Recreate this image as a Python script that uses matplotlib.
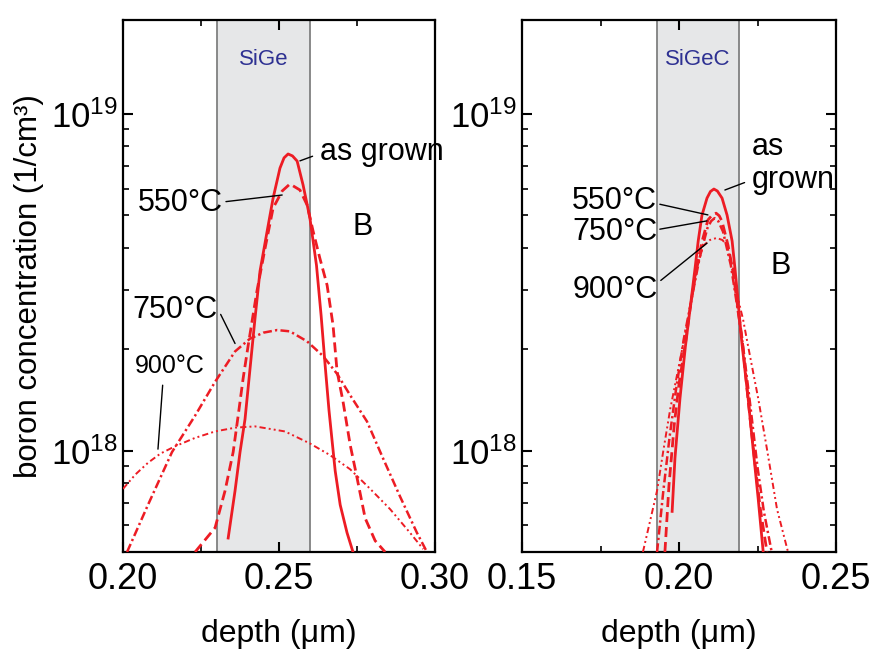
import matplotlib
matplotlib.use("Agg")
import matplotlib.pyplot as plt
import numpy as np
from matplotlib.ticker import FormatStrFormatter, LogLocator, MultipleLocator, NullFormatter

plt.rcParams["font.family"] = ["Liberation Sans", "DejaVu Sans"]
plt.rcParams["mathtext.fontset"] = "custom"
plt.rcParams["mathtext.rm"] = "Liberation Sans"
plt.rcParams["mathtext.it"] = "Liberation Sans:italic"

# depth in um, boron concentration in units of 1e18 / cm^3
sige_grown_x = [0.2337, 0.2359, 0.2375, 0.2391, 0.2407, 0.2423, 0.2439, 0.2462, 0.2481, 0.2503, 0.2516, 0.2529,
                0.2543, 0.2558, 0.2577, 0.2599, 0.2620, 0.2635, 0.2648, 0.2660, 0.2670, 0.2680, 0.2696, 0.2718, 0.2737]
sige_grown_c = [0.55, 0.76, 0.99, 1.24, 1.75, 2.47, 3.41, 4.49, 5.62, 6.90, 7.40, 7.60,
                7.50, 7.24, 6.15, 4.90, 3.55, 2.51, 1.78, 1.32, 1.07, 0.87, 0.69, 0.57, 0.50]
sige_550_x = [0.2231, 0.2295, 0.2327, 0.2353, 0.2369, 0.2385, 0.2401, 0.2429, 0.2455, 0.2481, 0.2510, 0.2535,
              0.2567, 0.2590, 0.2609, 0.2631, 0.2654, 0.2673, 0.2686, 0.2705, 0.2728, 0.2750, 0.2776, 0.2808, 0.2840]
sige_550_c = [0.50, 0.59, 0.76, 0.99, 1.27, 1.64, 2.05, 2.97, 3.98, 5.25, 5.90, 6.19,
              5.94, 5.36, 4.49, 3.72, 3.10, 2.36, 1.72, 1.40, 1.04, 0.83, 0.63, 0.54, 0.50]
sige_750_x = [0.2013, 0.2080, 0.2157, 0.2231, 0.2295, 0.2359, 0.2407, 0.2450, 0.2494, 0.2535,
              0.2590, 0.2641, 0.2686, 0.2728, 0.2782, 0.2833, 0.2888, 0.2942, 0.2974]
sige_750_c = [0.50, 0.69, 0.99, 1.27, 1.60, 1.97, 2.15, 2.24, 2.28, 2.26,
              2.11, 1.91, 1.69, 1.46, 1.22, 0.95, 0.73, 0.57, 0.50]
sige_900_x = [0.2000, 0.2040, 0.2080, 0.2120, 0.2167, 0.2230, 0.2295, 0.2360, 0.2423, 0.2519,
              0.2599, 0.2663, 0.2728, 0.2792, 0.2856, 0.2920, 0.2962]
sige_900_c = [0.77, 0.85, 0.92, 0.98, 1.03, 1.09, 1.14, 1.17, 1.18, 1.14,
              1.05, 0.97, 0.88, 0.77, 0.67, 0.57, 0.51]

sigec_grown_x = [0.1978, 0.1987, 0.2003, 0.2020, 0.2038, 0.2051, 0.2061, 0.2073, 0.2089, 0.2100, 0.2111,
                 0.2122, 0.2137, 0.2153, 0.2169, 0.2178, 0.2188, 0.2200, 0.2220, 0.2236, 0.2252, 0.2268]
sigec_grown_c = [0.66, 0.95, 1.43, 2.03, 2.77, 3.48, 4.19, 5.00, 5.62, 5.88, 5.98,
                 5.90, 5.62, 5.00, 4.19, 3.48, 2.77, 2.09, 1.43, 1.01, 0.72, 0.50]
sigec_550_x = [0.1955, 0.1968, 0.1985, 0.2000, 0.2019, 0.2035, 0.2051, 0.2073, 0.2092, 0.2105, 0.2118,
               0.2128, 0.2137, 0.2156, 0.2172, 0.2185, 0.2201, 0.2220, 0.2240, 0.2258, 0.2280]
sigec_550_c = [0.50, 0.79, 1.20, 1.58, 2.04, 2.63, 3.31, 4.17, 4.84, 5.00, 5.07,
               4.98, 4.79, 4.07, 3.39, 2.75, 2.14, 1.41, 0.95, 0.68, 0.50]
sigec_750_x = [0.1930, 0.1950, 0.1970, 0.1990, 0.2015, 0.2040, 0.2065, 0.2090, 0.2102, 0.2113,
               0.2125, 0.2140, 0.2165, 0.2185, 0.2205, 0.2225, 0.2250, 0.2270, 0.2295]
sigec_750_c = [0.50, 0.76, 1.10, 1.51, 2.14, 2.82, 3.72, 4.57, 4.80, 4.90,
               4.80, 4.47, 3.55, 2.69, 2.00, 1.41, 0.89, 0.66, 0.50]
sigec_900_x = [0.1885, 0.1930, 0.1950, 0.1972, 0.2010, 0.2041, 0.2057, 0.2076, 0.2098, 0.2120,
               0.2138, 0.2153, 0.2172, 0.2188, 0.2204, 0.2220, 0.2252, 0.2280, 0.2312, 0.2347]
sigec_900_c = [0.50, 0.76, 1.00, 1.33, 2.00, 2.82, 3.47, 4.05, 4.22, 4.28,
               4.22, 4.07, 3.47, 2.82, 2.45, 2.04, 1.43, 1.01, 0.67, 0.50]

sige_layer = (0.230, 0.260)
sigec_layer = (0.193, 0.219)

RED = "#ED1C24"
BLUE = "#2E3192"
STYLES = {
    "grown": dict(color=RED, lw=2.0, linestyle="-"),
    "550": dict(color=RED, lw=2.0, linestyle=(0, (3.6, 1.8))),
    "750": dict(color=RED, lw=1.8, linestyle=(0, (3.5, 1.3, 0.9, 1.3))),
    "900": dict(color=RED, lw=1.4, linestyle=(0, (3.2, 1.6, 1.0, 1.6, 1.0, 1.6))),
}
LEADER = dict(arrowstyle="-", color="black", lw=1.0, shrinkA=0, shrinkB=0)


def style_axes(ax, xlim, right_ticks):
    ax.set_yscale("log")
    ax.set_xlim(*xlim)
    ax.set_ylim(5.0e17, 1.9e19)
    ax.xaxis.set_major_locator(MultipleLocator(0.05))
    ax.xaxis.set_minor_locator(MultipleLocator(0.025))
    ax.xaxis.set_major_formatter(FormatStrFormatter("%.2f"))
    ax.yaxis.set_major_locator(LogLocator(base=10, numticks=10))
    ax.yaxis.set_minor_locator(LogLocator(base=10, subs=np.arange(2, 10), numticks=20))
    ax.yaxis.set_minor_formatter(NullFormatter())
    ax.tick_params(which="both", direction="in", top=True, right=right_ticks)
    ax.tick_params(which="major", length=7, width=1.5)
    ax.tick_params(which="minor", length=4, width=1.2)
    ax.tick_params(axis="x", labelsize=26, pad=7)
    ax.tick_params(axis="y", labelsize=25, pad=4)
    for spine in ax.spines.values():
        spine.set_linewidth(1.6)
    ax.set_xlabel("depth (μm)", fontsize=23, labelpad=16)


def draw_layer(ax, layer, name):
    ax.axvspan(layer[0], layer[1], facecolor="#E6E7E8", edgecolor="#808080", lw=1.3, zorder=0)
    ax.text(sum(layer) / 2, 1.45e19, name, color=BLUE, fontsize=16, ha="center", va="center")


def draw_profiles(ax, curves):
    for key, x, c in curves:
        ax.plot(x, np.array(c) * 1e18, **STYLES[key], zorder=3)


fig = plt.figure(figsize=(8.75, 6.5), dpi=100)
ax_l = fig.add_axes([0.1406, 0.1508, 0.3566, 0.8185])
ax_r = fig.add_axes([0.5966, 0.1508, 0.3589, 0.8185])

# left: SiGe
draw_layer(ax_l, sige_layer, "SiGe")
draw_profiles(ax_l, [("grown", sige_grown_x, sige_grown_c), ("550", sige_550_x, sige_550_c),
                     ("750", sige_750_x, sige_750_c), ("900", sige_900_x, sige_900_c)])
style_axes(ax_l, (0.20, 0.30), right_ticks=False)
ax_l.set_ylabel("boron concentration (1/cm³)", fontsize=22.5, labelpad=5)

ax_l.annotate("as grown", xy=(0.2567, 7.25e18), xytext=(0.2631, 7.7e18), fontsize=22, ha="left", va="center",
              annotation_clip=False, arrowprops=dict(LEADER, relpos=(0, 0.45), shrinkA=3.5))
ax_l.annotate("550°C", xy=(0.2510, 5.74e18), xytext=(0.2321, 5.43e18), fontsize=22, ha="right", va="center",
              arrowprops=dict(LEADER, relpos=(0.88, 0.5)))
ax_l.annotate("750°C", xy=(0.2359, 2.08e18), xytext=(0.2304, 2.61e18), fontsize=22, ha="right", va="center",
              arrowprops=dict(LEADER, relpos=(1.0, 0.55)))
ax_l.annotate("900°C", xy=(0.2112, 1.01e18), xytext=(0.2263, 1.78e18), fontsize=18, ha="right", va="center",
              arrowprops=dict(LEADER, relpos=(0.4, 0.0), shrinkA=3))
ax_l.text(0.2769, 4.61e18, "B", fontsize=22, ha="center", va="center")

# right: SiGeC
draw_layer(ax_r, sigec_layer, "SiGeC")
draw_profiles(ax_r, [("grown", sigec_grown_x, sigec_grown_c), ("550", sigec_550_x, sigec_550_c),
                     ("750", sigec_750_x, sigec_750_c), ("900", sigec_900_x, sigec_900_c)])
style_axes(ax_r, (0.15, 0.25), right_ticks=True)

ax_r.annotate("as\ngrown", xy=(0.2146, 5.94e18), xytext=(0.2232, 7.13e18), fontsize=22, ha="left", va="center",
              linespacing=1.15, arrowprops=dict(LEADER, relpos=(0, 0.24), shrinkA=3.5))
ax_r.annotate("550°C", xy=(0.2092, 5.01e18), xytext=(0.1930, 5.51e18), fontsize=22, ha="right", va="center",
              arrowprops=dict(LEADER, relpos=(0.94, 0.45)))
ax_r.annotate("750°C", xy=(0.2089, 4.81e18), xytext=(0.1930, 4.46e18), fontsize=22, ha="right", va="center",
              arrowprops=dict(LEADER, relpos=(0.95, 0.55)))
ax_r.annotate("900°C", xy=(0.2089, 4.13e18), xytext=(0.1933, 2.99e18), fontsize=22, ha="right", va="center",
              arrowprops=dict(LEADER, relpos=(0.94, 0.62)))
ax_r.text(0.2325, 3.53e18, "B", fontsize=22, ha="center", va="center")

fig.savefig("out.png", dpi=100)
